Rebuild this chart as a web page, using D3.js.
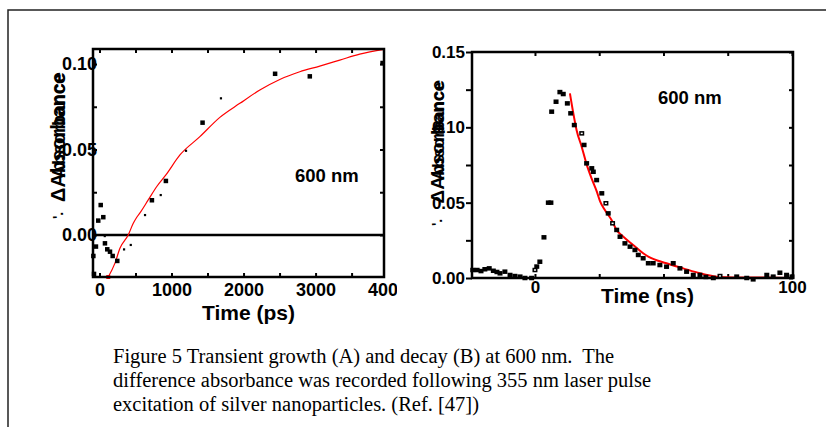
<!DOCTYPE html>
<html><head><meta charset="utf-8">
<script src="https://cdn.jsdelivr.net/npm/d3@7"></script>
<style>body{margin:0;background:#fff}svg{display:block}</style>
</head><body><svg id="c" width="826" height="427"></svg>
<script>
// ---------- DATA ----------
// Panel A: growth (time in ps, difference absorbance)
const aSquares = [[3930,0.1006],[2438,0.0943],[2920,0.0928],[1431,0.0657],[922,0.0316],[728,0.0203],
  [17,0.0175],[53,0.0104],[-17,0.0084],[-49,-0.0068],[76,-0.0049],[108,-0.0084],[146,-0.0098],
  [183,-0.0123],[247,-0.0152],[-85,-0.0123],[-76,-0.0228]];
const aDots = [[1685,0.080],[1200,0.0493],[849,0.0234],[631,0.0117],[340,-0.0084],[433,-0.0058],[72,-0.0006]];
const aFit = [[122,-0.0246],[215,-0.0165],[284,-0.0078],[399,0],[469,0.0068],[520,0.0105],[562,0.0129],
  [677,0.0205],[793,0.0282],[922,0.0351],[1117,0.0468],[1394,0.0575],[1671,0.0688],[1949,0.0770],
  [2226,0.0848],[2503,0.0910],[2781,0.0955],[3058,0.0988],[3336,0.1023],[3613,0.1058],[3950,0.1086]];
const aXTicks = [0,1000,2000,3000,4000];
const aYTicks = [0.00,0.05,0.10];
// Panel B: decay (time in ns, difference absorbance)
const bSquares = [[-24.2,0.0053],[-22.5,0.0053],[-21.0,0.0046],[-19.5,0.0058],[-17.8,0.0064],[-16.2,0.0048],
  [-14.8,0.0040],[-13.6,0.0031],[-11.7,0.0042],[-9.7,0.0020],[-7.8,0.0013],[-5.8,0.0009],[-3.9,0.0],
  [-1.3,0.0],[0.7,0.0076],[1.9,0.0108],[3.5,0.0270],[5.2,0.050],[6.2,0.050],[6.5,0.1104],[8.2,0.117],
  [9.7,0.1234],[11.0,0.1221],[12.6,0.1159],[13.9,0.1093],[15.3,0.1015],[19.1,0.0883],[20.1,0.0761],
  [22.1,0.0728],[22.7,0.0705],[24.0,0.065],[26.0,0.0562],[28.5,0.0429],[31.8,0.0319],[33.1,0.0274],
  [35.0,0.0230],[37.0,0.0208],[38.9,0.0186],[40.2,0.0153],[42.1,0.0131],[44.1,0.0098],[46.0,0.0098],
  [48.6,0.0086],[51.2,0.0075],[53.8,0.0098],[56.4,0.0064],[59.0,0.0042],[61.6,0.0020],[64.2,0.0020],
  [66.5,0.0007],[69.4,0.0],[78.5,0.0009],[82.4,0.0],[84.9,-0.0009],[90.2,0.002],[92.7,0.0009],
  [95.3,0.0035],[97.9,0.002],[100,0.0009]];
const bOpen = [[0.0,0.0053],[18.2,0.096],[27.6,0.0496],[30.2,0.0363],[72.0,0.0013]];
const bFit = [[13.6,0.1225],[14.9,0.1095],[16.2,0.0981],[18.2,0.0870],[20.1,0.0754],[22.1,0.0658],
  [24.0,0.0577],[25.3,0.0511],[27.2,0.0451],[29.8,0.0385],[31.8,0.0318],[34.4,0.0274],[38.2,0.0219],
  [42.1,0.0164],[44.1,0.0142],[51.2,0.0098],[57.7,0.0064],[64.2,0.0031],[70.7,0.0009],[77.2,0.0004],
  [90.2,0.0004],[100,0.0]];
const bXTicks = [0,100];
const bYTicks = [0.00,0.05,0.10,0.15];
const caption = ["Figure 5 Transient growth (A) and decay (B) at 600 nm.  The",
  "difference absorbance was recorded following 355 nm laser pulse",
  "excitation of silver nanoparticles. (Ref. [47])"];

// ---------- DRAW ----------
const svg = d3.select("#c");
const SANS = "Arial, 'Liberation Sans', Helvetica, sans-serif";
const SERIF = "'Times New Roman', 'Liberation Serif', serif";

svg.append("path").attr("d","M8,427V10H826").attr("fill","none").attr("stroke","#222").attr("stroke-width",1.5);

function panel(o){
  const g = svg.append("g");
  const x = d3.scaleLinear().domain(o.xd).range([o.L,o.R]);
  const y = d3.scaleLinear().domain(o.yd).range([o.B,o.T]);
  const fmt = d3.format(o.yfmt);
  const minorX = d3.range(o.xd[0] - (o.xd[0]%o.xm) , o.xd[1]+1e-9, o.xm).filter(v=>x(v)>=o.L-0.5&&x(v)<=o.R+0.5);
  const minorY = d3.range(0, o.yd[1]+1e-9, o.ym).concat(d3.range(-o.ym, o.yd[0]-1e-9, -o.ym)).filter(v=>y(v)<=o.B+0.5&&y(v)>=o.T-0.5);
  const tk = (ax)=>ax.tickFormat("").tickSizeOuter(0);
  g.append("g").attr("transform",`translate(0,${o.B})`).call(tk(d3.axisBottom(x).tickValues(minorX).tickSizeInner(-4)));
  g.append("g").attr("transform",`translate(0,${o.T})`).call(tk(d3.axisTop(x).tickValues(minorX).tickSizeInner(-4)));
  g.append("g").attr("transform",`translate(${o.L},0)`).call(tk(d3.axisLeft(y).tickValues(minorY).tickSizeInner(o.yOut? 6 : -4)));
  g.append("g").attr("transform",`translate(${o.R},0)`).call(tk(d3.axisRight(y).tickValues(minorY).tickSizeInner(-4)));
  g.selectAll(".domain").remove();
  g.selectAll(".tick line").attr("stroke","#000").attr("stroke-width",2);
  const clipId = "clip"+o.id;
  svg.append("clipPath").attr("id",clipId).append("rect").attr("x",0).attr("y",0).attr("width",o.clipR).attr("height",427);
  const xa = g.append("g").attr("clip-path",`url(#${clipId})`).attr("transform",`translate(0,${o.B})`)
    .call(d3.axisBottom(x).tickValues(o.xt).tickSize(0).tickPadding(o.xpad).tickFormat(d3.format("d")));
  const ya = g.append("g").attr("transform",`translate(${o.L},0)`)
    .call(d3.axisLeft(y).tickValues(o.yt).tickSize(0).tickPadding(o.ypad).tickFormat(fmt));
  [xa,ya].forEach(a=>{a.select(".domain").remove();a.selectAll("text").attr("font-family",SANS).attr("font-weight","bold").attr("font-size",o.fs).attr("fill","#000");});
  if(o.zero) g.append("line").attr("x1",o.L).attr("x2",o.R).attr("y1",y(0)).attr("y2",y(0)).attr("stroke","#000").attr("stroke-width",2.5);
  const line = d3.line().x(d=>x(d[0])).y(d=>y(d[1])).curve(d3.curveMonotoneX);
  g.append("path").datum(o.fit).attr("d",line).attr("fill","none").attr("stroke","#f00").attr("stroke-width",o.fitW);
  g.selectAll(".sq").data(o.squares).join("rect").attr("x",d=>x(d[0])-o.sw/2).attr("y",d=>y(d[1])-o.sh/2)
    .attr("width",o.sw).attr("height",o.sh).attr("fill","#000");
  g.selectAll(".dt").data(o.dots||[]).join("rect").attr("x",d=>x(d[0])-1).attr("y",d=>y(d[1])-1)
    .attr("width",2.2).attr("height",2.2).attr("fill","#000");
  g.selectAll(".op").data(o.open||[]).join("rect").attr("x",d=>x(d[0])-o.sw/2+0.75).attr("y",d=>y(d[1])-o.sh/2+0.75)
    .attr("width",o.sw-1.5).attr("height",o.sh-1.5).attr("fill","#fff").attr("stroke","#000").attr("stroke-width",1.5);
  if(o.fitStart) g.append("rect").attr("x",x(o.fit[0][0])-2).attr("y",y(o.fit[0][1])-2).attr("width",4).attr("height",4).attr("fill","#f00");
  g.append("rect").attr("x",o.L).attr("y",o.T).attr("width",o.R-o.L).attr("height",o.B-o.T)
    .attr("fill","none").attr("stroke","#000").attr("stroke-width",2.5);
  g.append("text").attr("x",o.tx).attr("y",o.ty).attr("text-anchor","middle").attr("font-family",SANS)
    .attr("font-weight","bold").attr("font-size",21).text(o.xTitle);
  g.append("text").attr("x",o.nx).attr("y",o.ny).attr("font-family",SANS).attr("font-weight","bold")
    .attr("font-size",18.5).text("600 nm");
  const yt = g.append("g").attr("transform",`translate(${o.yx},${o.yy}) rotate(-90)`);
  yt.append("text").attr("text-anchor","end").attr("font-family",SANS).attr("font-weight","bold").attr("font-size",o.yfs).text("ΔAbsorbance");
  yt.append("text").attr("text-anchor","end").attr("x",-2).attr("font-family",SANS).attr("font-weight","bold").attr("font-size",o.yfs-2).text("Absorbance");
  g.append("text").attr("transform",`translate(${o.yx-2},${o.dy}) rotate(-90)`).attr("font-family",SANS)
    .attr("font-weight","bold").attr("font-size",14).text("'.");
}

panel({id:"A", L:93,R:384,T:49,B:277, xd:[-90,3950], yd:[-0.0246,0.1088], xm:500, ym:0.025,
  xt:aXTicks, yt:aYTicks, yfmt:".2f", xpad:6, ypad:-4, fs:18, clipR:397, zero:true,
  fit:aFit, fitW:1.2, fitStart:true, squares:aSquares, dots:aDots, sw:4.5, sh:4.5,
  tx:248.5, ty:320, xTitle:"Time (ps)", nx:295, ny:181.5, yx:65, yy:72, yfs:20, dy:219});

panel({id:"B", L:472,R:793,T:52,B:278, xd:[-24.5,100.4], yd:[0,0.15], xm:25, ym:0.025, yOut:true,
  xt:bXTicks, yt:bYTicks, yfmt:".2f", xpad:3, ypad:7, fs:17, clipR:826, zero:false,
  fit:bFit, fitW:2, squares:bSquares, open:bOpen, sw:5, sh:4.5,
  tx:647.5, ty:303, xTitle:"Time (ns)", nx:658, ny:104, yx:444, yy:80, yfs:19, dy:226});

svg.append("g").selectAll("text").data(caption).join("text")
  .attr("x",113).attr("y",(d,i)=>363+i*24).attr("font-family",SERIF).attr("font-size",20.5)
  .attr("fill","#000").attr("xml:space","preserve").style("white-space","pre").text(d=>d);
</script></body></html>
